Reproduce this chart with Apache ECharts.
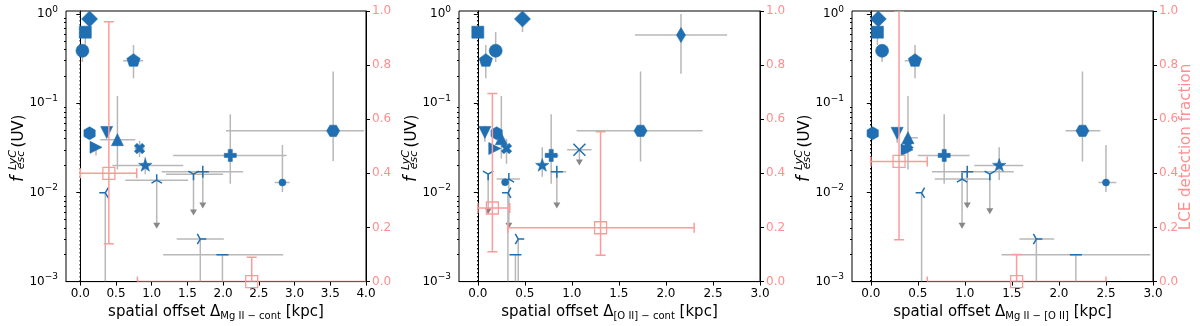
<!DOCTYPE html>
<html><head><meta charset="utf-8">
<script src="https://cdn.jsdelivr.net/npm/echarts@6/dist/echarts.min.js"></script>
<style>html,body{margin:0;padding:0;background:#fff}#c{width:1200px;height:326px}</style>
</head><body><div id="c"></div>
<script>
// ---------------- data ----------------
const X_TICKS_1 = [0, 0.5, 1, 1.5, 2, 2.5, 3, 3.5, 4];
const X_TICKS_2 = [0, 0.5, 1, 1.5, 2, 2.5, 3];
const X_TICKS_3 = [0, 0.5, 1, 1.5, 2, 2.5, 3];
const Y_TICKS = [0.001, 0.01, 0.1, 1];
const Y_MINOR = [0.002,0.003,0.004,0.005,0.006,0.007,0.008,0.009,
                 0.02,0.03,0.04,0.05,0.06,0.07,0.08,0.09,
                 0.2,0.3,0.4,0.5,0.6,0.7,0.8,0.9];
const LCE_TICKS = [0, 0.2, 0.4, 0.6, 0.8, 1.0];

// detections: [object, x, f_esc, xlo, xhi, ylo, yhi]
const P1_DET = [
  ['A', 0.13, 0.88, 0.13, 0.13, 0.88, 0.88],
  ['B', 0.07, 0.625, 0.07, 0.07, 0.45, 0.625],
  ['C', 0.03, 0.387, 0.03, 0.03, 0.29, 0.387],
  ['D', 0.745, 0.30, 0.60, 0.88, 0.19, 0.45],
  ['E', 0.13, 0.046, 0.13, 0.13, 0.046, 0.046],
  ['F', 0.37, 0.047, 0.37, 0.37, 0.042, 0.047],
  ['G', 0.52, 0.039, 0.28, 0.77, 0.018, 0.12],
  ['H', 0.22, 0.032, 0.22, 0.22, 0.026, 0.032],
  ['I', 0.83, 0.031, 0.76, 0.90, 0.025, 0.038],
  ['J', 0.91, 0.020, 0.45, 1.44, 0.016, 0.025],
  ['K', 2.10, 0.026, 1.30, 2.89, 0.0125, 0.075],
  ['L', 3.54, 0.049, 2.04, 3.97, 0.0225, 0.227],
  ['M', 2.83, 0.0129, 2.72, 2.93, 0.0101, 0.034]
];
// upper limits: [object, x, f_esc, xlo, xhi, yEnd, arrow]
const P1_LIM = [
  ['O', 1.07, 0.0137, 0.63, 1.51, 0.0039, 1],
  ['P', 1.585, 0.016, 1.20, 2.00, 0.0055, 1],
  ['Q', 1.715, 0.017, 1.14, 2.28, 0.0066, 1],
  ['S', 0.35, 0.0099, 0.35, 0.35, 0.001, 0],
  ['T', 1.68, 0.003, 1.35, 2.01, 0.001, 0],
  ['U', 1.99, 0.002, 1.16, 2.84, 0.001, 0]
];
// LCE detection fraction: [x, frac, xlo, xhi, ylo, yhi]
const P1_LCE = [
  [0.40, 0.40, 0.0, 0.79, 0.14, 0.96],
  [2.40, 0.0, 0.80, 4.30, 0.0, 0.09]
];

const P2_DET = [
  ['A', 0.475, 0.88, 0.475, 0.475, 0.63, 0.88],
  ['B', 0.0, 0.625, 0.0, 0.0, 0.625, 0.625],
  ['C', 0.19, 0.387, 0.19, 0.19, 0.29, 0.63],
  ['D', 0.085, 0.30, 0.085, 0.085, 0.19, 0.45],
  ['E', 0.20, 0.046, 0.20, 0.20, 0.046, 0.046],
  ['F', 0.075, 0.047, 0.075, 0.075, 0.037, 0.056],
  ['G', 0.25, 0.040, 0.25, 0.25, 0.024, 0.12],
  ['H', 0.18, 0.031, 0.18, 0.18, 0.031, 0.031],
  ['I', 0.305, 0.031, 0.305, 0.305, 0.021, 0.040],
  ['J', 0.685, 0.020, 0.685, 0.685, 0.015, 0.032],
  ['K', 0.78, 0.026, 0.72, 0.86, 0.0125, 0.075],
  ['L', 1.73, 0.049, 1.05, 2.39, 0.0222, 0.227],
  ['M', 0.29, 0.013, 0.29, 0.29, 0.013, 0.013],
  ['N', 2.16, 0.58, 1.67, 2.65, 0.214, 1.0]
];
const P2_LIM = [
  ['O', 0.33, 0.0141, 0.20, 0.45, 0.0039, 1],
  ['P', 0.11, 0.016, 0.11, 0.11, 0.0057, 1],
  ['Q', 0.84, 0.017, 0.77, 0.94, 0.0066, 1],
  ['R', 1.08, 0.030, 0.95, 1.21, 0.020, 1],
  ['S', 0.32, 0.0099, 0.32, 0.32, 0.001, 0],
  ['T', 0.43, 0.003, 0.43, 0.43, 0.001, 0],
  ['U', 0.40, 0.002, 0.40, 0.40, 0.001, 0]
];
const P2_LCE = [
  [0.155, 0.272, 0.0, 0.34, 0.11, 0.695],
  [1.305, 0.199, 0.32, 2.30, 0.097, 0.554]
];

const P3_DET = [
  ['A', 0.08, 0.88, 0.08, 0.08, 0.88, 0.88],
  ['B', 0.07, 0.625, 0.07, 0.07, 0.45, 0.625],
  ['C', 0.12, 0.387, 0.12, 0.12, 0.29, 0.387],
  ['D', 0.47, 0.30, 0.36, 0.51, 0.19, 0.45],
  ['E', 0.02, 0.046, 0.02, 0.02, 0.046, 0.046],
  ['F', 0.28, 0.046, 0.28, 0.28, 0.036, 0.046],
  ['G', 0.395, 0.041, 0.36, 0.50, 0.018, 0.12],
  ['I', 0.395, 0.034, 0.395, 0.395, 0.034, 0.034],
  ['H', 0.385, 0.030, 0.385, 0.385, 0.030, 0.030],
  ['J', 1.365, 0.020, 1.10, 1.62, 0.0138, 0.032],
  ['K', 0.78, 0.026, 0.50, 1.05, 0.0125, 0.075],
  ['L', 2.25, 0.049, 2.07, 2.44, 0.0222, 0.227],
  ['M', 2.50, 0.0129, 2.42, 2.61, 0.0101, 0.034]
];
const P3_LIM = [
  ['O', 0.97, 0.0141, 0.68, 1.28, 0.0039, 1],
  ['Q', 1.025, 0.017, 0.65, 1.52, 0.0066, 1],
  ['P', 1.265, 0.016, 1.265, 1.265, 0.0057, 1],
  ['S', 0.54, 0.0099, 0.54, 0.54, 0.001, 0],
  ['T', 1.76, 0.003, 1.58, 1.95, 0.001, 0],
  ['U', 2.18, 0.002, 1.39, 2.97, 0.001, 0]
];
const P3_LCE = [
  [0.30, 0.444, 0.0, 0.60, 0.155, 1.0],
  [1.55, 0.0, 0.60, 2.50, 0.0, 0.10]
];

const X_NAMES = [
  ['spatial offset Δ', 'Mg II − cont', ' [kpc]'],
  ['spatial offset Δ', '[O II] − cont', ' [kpc]'],
  ['spatial offset Δ', 'Mg II − [O II]', ' [kpc]']
];
const X_MAX = [4.0, 3.0, 3.0];
const Y_LABEL = ['f', 'LyC', 'esc', '(UV)'];
const RIGHT_LABEL = 'LCE detection fraction';

// ---------------- styles ----------------
const FONT = 'DejaVu Sans';
const BLUE = '#1f6fb2';
const GREY = '#b8b8b8';
const ARROW = '#888888';
const PINK = '#ff9a9a';
const PINK_TXT = '#ff8e8e';

const SQ = 'M-1,-1 M1,1 ';
function poly(pts) { return 'path://' + SQ + 'M' + pts.map(p => p[0].toFixed(4) + ',' + p[1].toFixed(4)).join(' L') + ' Z'; }
function ring(n, r, start) { const a = []; for (let k = 0; k < n; k++) { const t = (start + k * 360 / n) * Math.PI / 180; a.push([r * Math.cos(t), r * Math.sin(t)]); } return a; }
function starPts() { const a = []; for (let k = 0; k < 10; k++) { const r = k % 2 ? 0.4 : 1; const t = (-90 + k * 36) * Math.PI / 180; a.push([r * Math.cos(t), r * Math.sin(t)]); } return a; }
const PLUS_PTS = [[-1,-0.34],[-0.34,-0.34],[-0.34,-1],[0.34,-1],[0.34,-0.34],[1,-0.34],[1,0.34],[0.34,0.34],[0.34,1],[-0.34,1],[-0.34,0.34],[-1,0.34]];
const X_PTS = PLUS_PTS.map(p => { const c = Math.SQRT1_2; return [(p[0] - p[1]) * c * 0.85, (p[0] + p[1]) * c * 0.85]; });

const MARKERS = {
  A: { symbol: 'diamond', size: 16 },
  B: { symbol: 'rect', size: 12 },
  C: { symbol: 'circle', size: 13 },
  D: { symbol: poly(ring(5, 1, -90)), size: 14 },
  E: { symbol: poly(ring(6, 1, -90)), size: 13 },
  F: { symbol: poly([[0,1],[1,-1],[-1,-1]]), size: 12 },
  G: { symbol: poly([[0,-1],[1,1],[-1,1]]), size: 12 },
  H: { symbol: poly([[1,0],[-1,-1],[-1,1]]), size: 12 },
  I: { symbol: poly(X_PTS), size: 13 },
  J: { symbol: poly(starPts()), size: 14 },
  K: { symbol: poly(PLUS_PTS), size: 12 },
  L: { symbol: poly(ring(6, 1, 0)), size: 13 },
  M: { symbol: 'circle', size: 7 },
  N: { symbol: 'diamond', size: [9, 15] },
  O: { symbol: 'path://' + SQ + 'M0,0 L0,-1 M0,0 L0.866,0.5 M0,0 L-0.866,0.5', size: 12, thin: true },
  P: { symbol: 'path://' + SQ + 'M0,0 L0,1 M0,0 L0.866,-0.5 M0,0 L-0.866,-0.5', size: 12, thin: true },
  Q: { symbol: 'path://' + SQ + 'M-1,0 L1,0 M0,-1 L0,1', size: 12, thin: true },
  R: { symbol: 'path://' + SQ + 'M-1,-1 L1,1 M-1,1 L1,-1', size: 12, thin: true },
  S: { symbol: 'path://' + SQ + 'M0,0 L-1,0 M0,0 L0.5,-0.866 M0,0 L0.5,0.866', size: 12, thin: true },
  T: { symbol: 'path://' + SQ + 'M0,0 L1,0 M0,0 L-0.5,-0.866 M0,0 L-0.5,0.866', size: 12, thin: true },
  U: { symbol: 'path://' + SQ + 'M-1,0 L1,0', size: 12, thin: true }
};

const GRIDS = [
  { left: 66, top: 11, width: 300, height: 272 },
  { left: 459, top: 11, width: 301, height: 272 },
  { left: 852, top: 11, width: 301, height: 272 }
];

// ---------------- renderers ----------------
function seg(a, b, color, lw) {
  return { type: 'line', shape: { x1: a[0], y1: a[1], x2: b[0], y2: b[1] }, style: { stroke: color, lineWidth: lw } };
}
function errRender(color, lw, cap) {
  return function (params, api) {
    const x = api.value(0), y = api.value(1), xlo = api.value(2), xhi = api.value(3), ylo = api.value(4), yhi = api.value(5);
    const kids = [];
    if (xhi > xlo) {
      const a = api.coord([xlo, y]), b = api.coord([xhi, y]);
      kids.push(seg(a, b, color, lw));
      if (cap) {
        kids.push(seg([a[0], a[1] - cap], [a[0], a[1] + cap], color, lw));
        kids.push(seg([b[0], b[1] - cap], [b[0], b[1] + cap], color, lw));
      }
    }
    if (yhi > ylo) {
      const a = api.coord([x, ylo]), b = api.coord([x, yhi]);
      kids.push(seg(a, b, color, lw));
      if (cap) {
        kids.push(seg([a[0] - cap, a[1]], [a[0] + cap, a[1]], color, lw));
        kids.push(seg([b[0] - cap, b[1]], [b[0] + cap, b[1]], color, lw));
      }
    }
    return { type: 'group', children: kids };
  };
}
function limRender(params, api) {
  const x = api.value(0), y = api.value(1), xlo = api.value(2), xhi = api.value(3), yEnd = api.value(4), arrow = api.value(5);
  const kids = [];
  if (xhi > xlo) kids.push(seg(api.coord([xlo, y]), api.coord([xhi, y]), GREY, 1.5));
  const c = api.coord([x, y]), e = api.coord([x, yEnd]);
  if (arrow) {
    kids.push(seg(c, [e[0], e[1] - 5], GREY, 1.5));
    kids.push({ type: 'polygon', shape: { points: [[e[0] - 3.5, e[1] - 6], [e[0] + 3.5, e[1] - 6], [e[0], e[1]]] }, style: { fill: ARROW } });
  } else {
    kids.push(seg(c, e, GREY, 1.5));
  }
  return { type: 'group', children: kids };
}

function markerItem(row) {
  const m = MARKERS[row[0]];
  return {
    value: [row[1], row[2]],
    symbol: m.symbol,
    symbolSize: m.size,
    itemStyle: m.thin
      ? { color: 'rgba(0,0,0,0)', borderColor: BLUE, borderWidth: 1.5, opacity: 1 }
      : { color: BLUE, borderColor: BLUE, borderWidth: 0.6, opacity: 1 }
  };
}

function supLabel(v) {
  const e = Math.round(Math.log10(v));
  return '{b|10}{p|' + (e < 0 ? '−' + (-e) : String(e)) + '}';
}

// ---------------- build ----------------
const PANELS = [
  { det: P1_DET, lim: P1_LIM, lce: P1_LCE, xt: X_TICKS_1 },
  { det: P2_DET, lim: P2_LIM, lce: P2_LCE, xt: X_TICKS_2 },
  { det: P3_DET, lim: P3_LIM, lce: P3_LCE, xt: X_TICKS_3 }
];

const xAxis = [], yAxis = [], series = [], graphic = [];
PANELS.forEach((p, i) => {
  const nm = X_NAMES[i];
  xAxis.push({
    gridIndex: i, type: 'value', min: -0.2, max: X_MAX[i],
    axisLine: { onZero: false, lineStyle: { color: '#000', width: 1 } },
    axisTick: { customValues: p.xt, length: 4, lineStyle: { color: '#000' } },
    axisLabel: { customValues: p.xt, formatter: v => v.toFixed(1), color: '#000', fontSize: 12, fontFamily: FONT, margin: 6 },
    splitLine: { show: false },
    name: '{a|' + nm[0] + '}{s|' + nm[1] + '}{a|' + nm[2] + '}',
    nameLocation: 'middle', nameGap: 15,
    nameTextStyle: {
      verticalAlign: 'top',
      rich: {
        a: { fontSize: 15, fontFamily: FONT, color: '#000', lineHeight: 18 },
        s: { fontSize: 10, fontFamily: FONT, color: '#000', lineHeight: 10, verticalAlign: 'bottom' }
      }
    }
  });
  yAxis.push({
    gridIndex: i, type: 'log', min: 0.001, max: 1.08, position: 'left',
    axisLine: { show: true, lineStyle: { color: '#000', width: 1 } },
    axisTick: { show: true, customValues: Y_TICKS, length: 4, lineStyle: { color: '#000' } },
    axisLabel: {
      customValues: Y_TICKS, formatter: supLabel, margin: 8,
      rich: {
        b: { fontSize: 12, fontFamily: FONT, color: '#000', lineHeight: 18 },
        p: { fontSize: 9, fontFamily: FONT, color: '#000', lineHeight: 9, verticalAlign: 'top' }
      }
    },
    splitLine: { show: false }
  });
  yAxis.push({
    gridIndex: i, type: 'log', min: 0.001, max: 1.08, position: 'left',
    axisLine: { show: false },
    axisTick: { show: true, customValues: Y_MINOR, length: 2, lineStyle: { color: '#000' } },
    axisLabel: { show: false },
    splitLine: { show: false }
  });
  yAxis.push({
    gridIndex: i, type: 'value', min: 0, max: 1, interval: 0.2, position: 'right',
    axisLine: { show: true, lineStyle: { color: '#000', width: 1 } },
    axisTick: { show: true, length: 4, lineStyle: { color: '#000' } },
    axisLabel: { formatter: v => v.toFixed(1), color: PINK_TXT, fontSize: 12, fontFamily: FONT, margin: 6 },
    splitLine: { show: false }
  });
  const yLog = i * 3, yRight = i * 3 + 2;

  series.push({
    type: 'line', xAxisIndex: i, yAxisIndex: yLog, data: [[0, 0.001], [0, 1.08]],
    symbol: 'none', silent: true, z: 1,
    lineStyle: { color: '#000', width: 1.5, type: [1.5, 2.5] }
  });
  series.push({
    type: 'custom', xAxisIndex: i, yAxisIndex: yLog, clip: true, z: 2, silent: true,
    renderItem: errRender(GREY, 1.5, 0),
    data: p.det.map(r => r.slice(1)),
    encode: { x: 0, y: 1 }
  });
  series.push({
    type: 'custom', xAxisIndex: i, yAxisIndex: yLog, clip: true, z: 2, silent: true,
    renderItem: limRender,
    data: p.lim.map(r => r.slice(1)),
    encode: { x: 0, y: 1 }
  });
  series.push({
    type: 'scatter', xAxisIndex: i, yAxisIndex: yLog, z: 3, silent: true,
    symbolKeepAspect: true,
    itemStyle: { opacity: 1 },
    data: p.det.map(markerItem).concat(p.lim.map(markerItem))
  });
  series.push({
    type: 'custom', xAxisIndex: i, yAxisIndex: yRight, clip: true, z: 4, silent: true,
    renderItem: errRender(PINK, 1.5, 5),
    data: p.lce,
    encode: { x: 0, y: 1 }
  });
  series.push({
    type: 'scatter', xAxisIndex: i, yAxisIndex: yRight, z: 4, silent: true, clip: true,
    symbol: 'rect', symbolSize: 12,
    itemStyle: { color: 'rgba(0,0,0,0)', borderColor: PINK, borderWidth: 1.3, opacity: 1 },
    data: p.lce.map(r => [r[0], r[1]])
  });

  // y-axis title f_esc^LyC (UV)
  const L = GRIDS[i].left;
  const rot = Math.PI / 2;
  graphic.push({ type: 'text', x: L - 47, y: 179, rotation: rot, style: { text: Y_LABEL[0], font: 'italic 17px "' + FONT + '"', fill: '#000', align: 'center', verticalAlign: 'middle' } });
  graphic.push({ type: 'text', x: L - 52.5, y: 160, rotation: rot, style: { text: Y_LABEL[1], font: 'italic 11px "' + FONT + '"', fill: '#000', align: 'center', verticalAlign: 'middle' } });
  graphic.push({ type: 'text', x: L - 45, y: 160, rotation: rot, style: { text: Y_LABEL[2], font: 'italic 11px "' + FONT + '"', fill: '#000', align: 'center', verticalAlign: 'middle' } });
  graphic.push({ type: 'text', x: L - 47, y: 131, rotation: rot, style: { text: Y_LABEL[3], font: '15px "' + FONT + '"', fill: '#000', align: 'center', verticalAlign: 'middle' } });
});
graphic.push({ type: 'text', x: 1186, y: 147, rotation: Math.PI / 2, style: { text: RIGHT_LABEL, font: '15px "' + FONT + '"', fill: PINK_TXT, align: 'center', verticalAlign: 'middle' } });

const chart = echarts.init(document.getElementById('c'), null, { renderer: 'canvas' });
chart.setOption({
  animation: false,
  backgroundColor: '#fff',
  grid: GRIDS.map(g => Object.assign({ show: true, borderColor: '#000', borderWidth: 1, backgroundColor: '#fff', containLabel: false }, g)),
  xAxis, yAxis, series, graphic
});
</script>
</body></html>
